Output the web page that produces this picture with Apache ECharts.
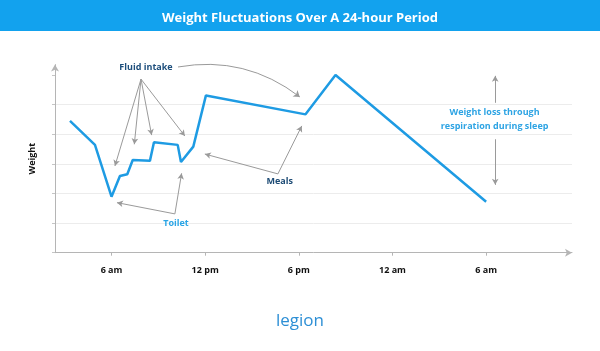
<!DOCTYPE html>
<html>
<head>
<meta charset="utf-8">
<script src="https://cdn.jsdelivr.net/npm/echarts@6/dist/echarts.min.js"></script>
<style>html,body{margin:0;padding:0;background:#fff;}#c{width:600px;height:351px;}</style>
</head>
<body>
<div id="c"></div>
<script>
// Hours (6 = 6 am day 1, 30 = 6 am day 2) and weight (arbitrary units)
var hours   = [3.34, 4.94, 6.0, 6.54, 7.01, 7.36, 8.46, 8.72, 10.24, 10.45, 11.24, 12.05, 18.43, 20.35, 30.0];
var weights = [4.45, 3.64, 1.89, 2.59, 2.65, 3.13, 3.10, 3.73, 3.64, 3.06, 3.58, 5.31, 4.67, 6.0, 1.72];
var tickHours  = [6, 12, 18, 24, 30];
var tickLabels = ['6 am', '12 pm', '6 pm', '12 am', '6 am'];
var weightTicks = [0, 1, 2, 3, 4, 5, 6];

// annotation anchors in data units [hour, weight]
var fluidText = [8.21, 6.24];
var fluidFrom = [7.89, 5.86];
var fluidTo = [[6.22, 2.93], [7.46, 3.66], [8.57, 3.97], [10.70, 3.94]];
var fluidCurve = [[10.26, 6.27], [18.06, 5.26]];
var toiletText = [10.13, 0.98];
var toiletFrom = [10.06, 1.31];
var toiletTo = [[6.35, 1.69], [10.49, 2.68]];
var mealsText = [16.78, 2.40];
var mealsFrom = [16.66, 2.66];
var mealsTo = [[11.98, 3.33], [18.19, 4.28]];
var sleepText = [30.54, 4.49];
var sleepArrows = [[[30.58, 5.06], [30.58, 5.97]], [[30.58, 3.83], [30.58, 2.29]]];

var FONT = '"Open Sans", sans-serif';
var data = hours.map(function (h, i) { return [h, weights[i]]; });

var lines = [];
fluidTo.forEach(function (t) { lines.push([{ coord: fluidFrom }, { coord: t }]); });
toiletTo.forEach(function (t) { lines.push([{ coord: toiletFrom }, { coord: t }]); });
mealsTo.forEach(function (t) { lines.push([{ coord: mealsFrom }, { coord: t }]); });
sleepArrows.forEach(function (a) { lines.push([{ coord: a[0] }, { coord: a[1] }]); });

function textPoint(coord, text, color) {
  return {
    coord: coord, value: text, symbol: 'circle', symbolSize: 0,
    label: { show: true, position: 'inside', formatter: text, color: color,
      fontFamily: FONT, fontWeight: 'bold', fontSize: 9, lineHeight: 14, align: 'center' }
  };
}
var arrowStyle = { color: '#9a9a9a', width: 1, type: 'solid' };

var chart = echarts.init(document.getElementById('c'), null, { renderer: 'canvas' });
chart.setOption({
  animation: false,
  backgroundColor: '#ffffff',
  graphic: [
    { type: 'rect', left: 0, top: 0, shape: { width: 600, height: 31 }, style: { fill: '#12a2ee' }, z: 0 },
    { type: 'text', left: 'center', top: 313, style: { text: 'legion', fill: '#2d8fd5', fontFamily: FONT, fontSize: 17, fontWeight: 'normal' } }
  ],
  title: {
    text: 'Weight Fluctuations Over A 24-hour Period',
    left: 'center', top: 7,
    textStyle: { color: '#ffffff', fontFamily: FONT, fontWeight: 'bold', fontSize: 13 }
  },
  grid: { left: 55, right: 28, top: 64.6, bottom: 98.3 },
  xAxis: {
    type: 'value', min: 2.38, max: 35.5,
    axisLine: { lineStyle: { color: '#b5b5b5', width: 1 }, symbol: ['none', 'arrow'], symbolSize: [6, 7] },
    axisTick: { show: true, customValues: tickHours, length: 3, lineStyle: { color: '#b5b5b5' } },
    axisLabel: {
      customValues: tickHours, margin: 13, color: '#111', fontFamily: FONT, fontWeight: 'bold', fontSize: 9,
      formatter: function (v) { var i = tickHours.indexOf(v); return i >= 0 ? tickLabels[i] : ''; }
    },
    splitLine: { show: false }
  },
  yAxis: {
    type: 'value', min: 0, max: 6.35,
    name: 'Weight', nameLocation: 'middle', nameGap: 18, nameRotate: 90,
    nameTextStyle: { color: '#111', fontFamily: FONT, fontWeight: 'bold', fontSize: 9 },
    axisLine: { show: true, lineStyle: { color: '#b5b5b5', width: 1 }, symbol: ['none', 'arrow'], symbolSize: [6, 7] },
    axisTick: { show: true, customValues: weightTicks, length: 3, lineStyle: { color: '#c5c5c5' } },
    axisLabel: { show: false, customValues: weightTicks },
    splitLine: { show: true, showMaxLine: false, lineStyle: { color: '#ececec', width: 1 } }
  },
  series: [{
    type: 'line', data: data, symbol: 'none',
    lineStyle: { color: '#1e9be3', width: 2.5 },
    markLine: {
      silent: true, symbol: ['none', 'arrow'], symbolSize: [5, 6],
      label: { show: false },
      lineStyle: arrowStyle,
      emphasis: { disabled: true },
      data: lines
    },
    markPoint: {
      silent: true,
      data: [
        textPoint(fluidText, 'Fluid intake', '#1d4e7c'),
        textPoint(toiletText, 'Toilet', '#2aa5e6'),
        textPoint(mealsText, 'Meals', '#1d4b75'),
        textPoint(sleepText, 'Weight loss through\nrespiration during sleep', '#2ea4e4')
      ]
    }
  }, {
    type: 'lines', coordinateSystem: 'cartesian2d', silent: true, clip: false,
    symbol: ['none', 'arrow'], symbolSize: [5, 6],
    lineStyle: { color: '#9a9a9a', width: 1, type: 'solid', curveness: 0.22, opacity: 1 },
    data: [{ coords: [fluidCurve[0], fluidCurve[1]] }]
  }]
});
</script>
</body>
</html>
